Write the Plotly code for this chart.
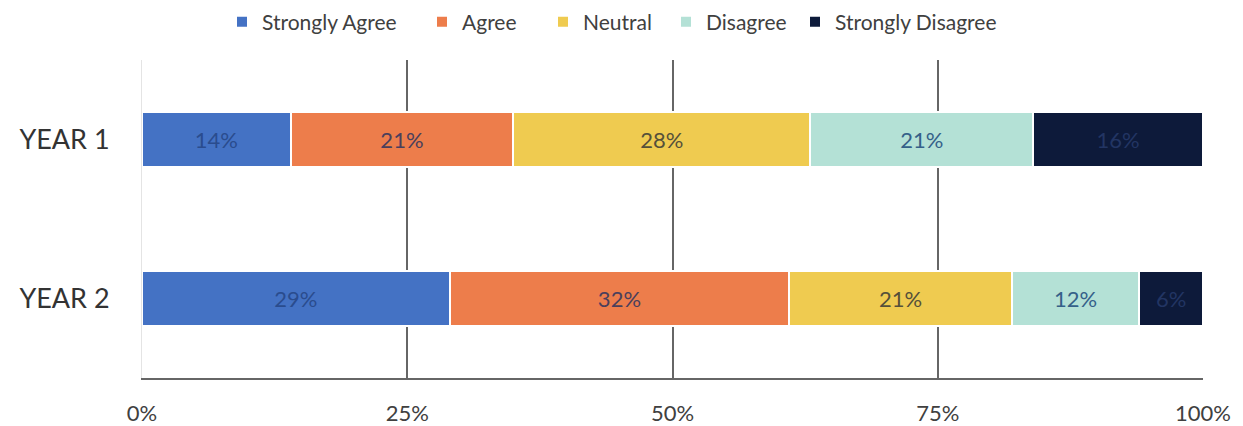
import plotly.graph_objects as go

years = ["YEAR 1", "YEAR 2"]
categories = ["Strongly Agree", "Agree", "Neutral", "Disagree", "Strongly Disagree"]
values = {
    "Strongly Agree": [14, 29],
    "Agree": [21, 32],
    "Neutral": [28, 21],
    "Disagree": [21, 12],
    "Strongly Disagree": [16, 6],
}
colors = {
    "Strongly Agree": "#4472C4",
    "Agree": "#ED7D4B",
    "Neutral": "#EFCB50",
    "Disagree": "#B4E1D6",
    "Strongly Disagree": "#0D1A3A",
}
label_colors = {
    "Strongly Agree": "#2A4C8E",
    "Agree": "#4A3F5C",
    "Neutral": "#55503A",
    "Disagree": "#356089",
    "Strongly Disagree": "#223563",
}
xticks = [0, 25, 50, 75, 100]
xticklabels = ["0%", "25%", "50%", "75%", "100%"]

# page is offset by the 8px body margin
W, H = 1235, 418
legend_text_x = [262, 462, 583, 706, 835]  # page x where each legend text starts

fig = go.Figure()
layout_legends = {}
for i, c in enumerate(categories):
    lg = "legend" if i == 0 else f"legend{i + 1}"
    fig.add_trace(go.Bar(
        name=c,
        y=years,
        x=values[c],
        orientation="h",
        marker=dict(color=colors[c], line=dict(color="white", width=2)),
        text=[f"{v}%" for v in values[c]],
        textposition="inside",
        insidetextanchor="middle",
        textfont=dict(family="Lato", size=22, color=label_colors[c]),
        width=0.34,
        hoverinfo="skip",
        legend=lg,
    ))
    layout_legends[lg] = dict(
        orientation="h",
        xref="container", yref="container",
        x=(legend_text_x[i] - 8 - 40) / W, xanchor="left",
        y=1 - 14 / H, yanchor="middle",
        font=dict(family="Lato", size=21, color="#404040"),
        itemwidth=30,
        bgcolor="rgba(0,0,0,0)",
    )

fig.update_layout(
    barmode="stack",
    width=W,
    height=H,
    margin=dict(l=134, r=40, t=52, b=48, autoexpand=False),
    paper_bgcolor="white",
    plot_bgcolor="white",
    font=dict(family="Lato", color="#404040"),
    showlegend=True,
    xaxis=dict(
        range=[0, 100],
        tickvals=xticks,
        ticktext=xticklabels,
        showgrid=True,
        gridcolor="#666666",
        gridwidth=2,
        zeroline=False,
        showline=True,
        linecolor="#666666",
        linewidth=2,
        ticks="outside",
        ticklen=15,
        tickcolor="rgba(0,0,0,0)",
        tickfont=dict(family="Lato", size=22, color="#404040"),
        automargin=False,
        fixedrange=True,
    ),
    yaxis=dict(
        autorange=False,
        range=[1.5, -0.5],
        showgrid=False,
        zeroline=False,
        showline=True,
        linecolor="#e4e4e4",
        linewidth=1,
        ticks="outside",
        ticklen=26,
        tickcolor="rgba(0,0,0,0)",
        tickfont=dict(family="Lato", size=27, color="#333333"),
        automargin=False,
        fixedrange=True,
    ),
    **layout_legends,
)

fig.write_html("out.html")
